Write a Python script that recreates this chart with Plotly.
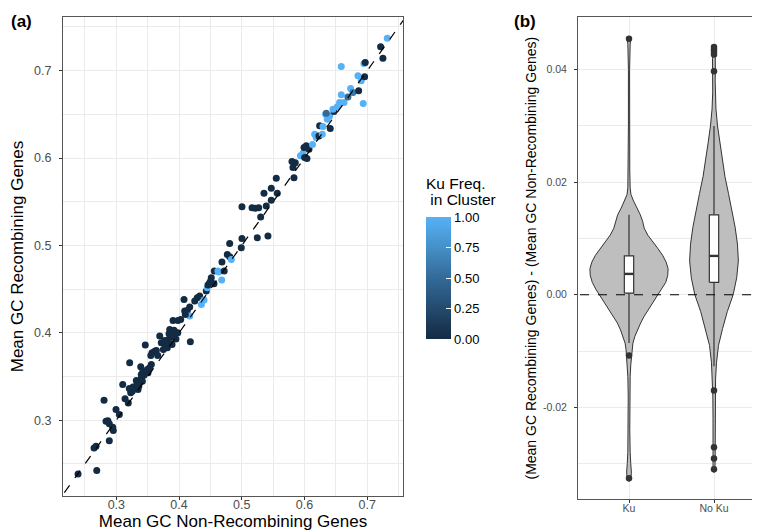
import plotly.graph_objects as go

# ---------------- Panel (a) data: one point per cluster ----------------
gc_nonrec = [
    0.239, 0.2688, 0.2645, 0.2676, 0.2888, 0.2836, 0.2888, 0.2943, 0.2952, 0.2995,
    0.3048, 0.2804, 0.3102, 0.3139, 0.3191, 0.3207, 0.3229, 0.3213, 0.3255, 0.2865,
    0.3265, 0.3319, 0.3346, 0.3389, 0.3415, 0.3441, 0.3462, 0.3505, 0.3494, 0.3558,
    0.3569, 0.3612, 0.3638, 0.3692, 0.3717, 0.3771, 0.3813, 0.3851, 0.3877, 0.3888,
    0.3904, 0.3931, 0.3983, 0.4079, 0.4090, 0.4132, 0.4170, 0.4180, 0.4170, 0.3830,
    0.3870, 0.3920, 0.3800, 0.3950, 0.3750, 0.3780, 0.3660, 0.3860, 0.3980, 0.3840,
    0.3900, 0.3790, 0.3330, 0.3370, 0.3400, 0.3470, 0.3430, 0.3360, 0.3530, 0.3550,
    0.3425, 0.3398, 0.4026, 0.4100, 0.4250, 0.4290, 0.4329, 0.4355, 0.4398, 0.4434,
    0.4450, 0.4461, 0.4488, 0.4504, 0.4514, 0.4557, 0.4562, 0.4620, 0.4632, 0.4680,
    0.4720, 0.4684, 0.4769, 0.4807, 0.4807, 0.4833, 0.4992, 0.5003, 0.5003, 0.5163,
    0.5215, 0.5269, 0.5301, 0.5354, 0.5390, 0.5417, 0.5247, 0.5470, 0.5470, 0.5550,
    0.5566, 0.5800, 0.5816, 0.5853, 0.5832, 0.5935, 0.5976, 0.5992, 0.6028, 0.6071,
    0.6002, 0.6039, 0.6127, 0.6162, 0.6187, 0.6230, 0.6241, 0.6410, 0.6283, 0.6294,
    0.6337, 0.6363, 0.6400, 0.6347, 0.6469, 0.6453, 0.6522, 0.6586, 0.6586, 0.6629,
    0.6692, 0.6735, 0.6772, 0.6852, 0.6863, 0.6904, 0.6947, 0.6968, 0.6958, 0.6936,
    0.7213, 0.7250, 0.7319, 0.6560,
]
gc_rec = [
    0.2385, 0.2423, 0.2683, 0.2702, 0.2766, 0.2989, 0.2958, 0.2920, 0.2881, 0.3121,
    0.3064, 0.3229, 0.3408, 0.3244, 0.3198, 0.3362, 0.3313, 0.3656, 0.3332, 0.2995,
    0.3380, 0.3454, 0.3350, 0.3611, 0.3447, 0.3515, 0.3859, 0.3542, 0.3580, 0.3637,
    0.3771, 0.3790, 0.3797, 0.3962, 0.3886, 0.3912, 0.3828, 0.4038, 0.4011, 0.3866,
    0.4141, 0.3992, 0.4141, 0.4382, 0.4249, 0.4256, 0.4294, 0.3897, 0.4191, 0.3920,
    0.3950, 0.4030, 0.3860, 0.3930, 0.3810, 0.3880, 0.3740, 0.3980, 0.4000, 0.3990,
    0.3970, 0.3840, 0.3410, 0.3440, 0.3480, 0.3540, 0.3560, 0.3390, 0.3600, 0.3740,
    0.3561, 0.3522, 0.4152, 0.4210, 0.4363, 0.4400, 0.4420, 0.4324, 0.4374, 0.4478,
    0.4515, 0.4546, 0.4573, 0.4592, 0.4630, 0.4561, 0.4707, 0.4707, 0.4695, 0.4605,
    0.4707, 0.4810, 0.4897, 0.4871, 0.5023, 0.4840, 0.4974, 0.5080, 0.5443, 0.5432,
    0.5424, 0.5432, 0.5325, 0.5596, 0.5451, 0.5108, 0.5088, 0.5653, 0.5516, 0.5768,
    0.5596, 0.5960, 0.5890, 0.5947, 0.5775, 0.6025, 0.6055, 0.6119, 0.6139, 0.6100,
    0.6005, 0.5993, 0.6155, 0.6272, 0.6234, 0.6253, 0.6368, 0.6337, 0.6272, 0.6360,
    0.6500, 0.6444, 0.6482, 0.6513, 0.6532, 0.6558, 0.6586, 0.6723, 0.7047, 0.6634,
    0.6699, 0.6795, 0.6749, 0.6940, 0.6769, 0.6883, 0.7082, 0.7093, 0.6929, 0.6623,
    0.7273, 0.7142, 0.7371, 0.6634,
]
ku_freq = [
    0, 0, 0, 0, 0, 0, 0, 0, 0, 0,
    0, 0, 0, 0, 0, 0, 0, 0, 0, 0,
    0, 0, 0, 0, 0, 0, 0, 0, 0, 0,
    0, 0, 0, 0, 0, 0, 0, 0, 0, 0,
    0, 0, 0, 0, 0, 0, 0, 0, 1, 0,
    0, 0, 0, 0, 0, 0, 0, 0, 0, 0,
    0, 0, 0, 0, 0, 0, 0, 0, 0, 0,
    0, 0, 0, 0, 0, 0, 0, 1, 1, 0,
    1, 0, 0, 0, 0, 0, 0, 1, 1, 1,
    0, 0, 0, 0, 0, 1, 0, 0, 0, 0,
    0, 0, 0, 0, 0, 0, 0, 0, 0, 0,
    0, 0, 0, 0, 0, 1, 1, 0, 0, 0,
    0, 0, 1, 1, 1, 0, 0, 0, 1, 1,
    1, 1, 1, 0.5, 0, 1, 1, 1, 1, 1,
    0.5, 1, 0.6, 1, 0, 1, 1, 0, 0, 1,
    0, 0, 1, 1,
]

# ---------------- Panel (b) data ----------------
groups = ["Ku", "No Ku"]
group_pos = [1, 2]

# violin outlines: GC difference levels and relative density
ku_levels = [0.0458, 0.0452, 0.0445, 0.040, 0.030, 0.022, 0.019, 0.0178, 0.0166, 0.0154,
             0.0142, 0.0130, 0.0118, 0.0106, 0.0094, 0.0082, 0.0070, 0.0058, 0.0046, 0.0034,
             0.0022, 0.0010, -0.0002, -0.0014, -0.0026, -0.0038, -0.0050, -0.0062, -0.0074, -0.0086,
             -0.0098, -0.0110, -0.0125, -0.0145, -0.018, -0.024, -0.028, -0.030, -0.0315, -0.0325,
             -0.0332]
ku_density = [0.0, 0.04, 0.03, 0.015, 0.015, 0.02, 0.03, 0.05, 0.12, 0.2,
              0.29, 0.35, 0.39, 0.48, 0.6, 0.74, 0.86, 0.95, 1.0, 0.99,
              0.94, 0.85, 0.74, 0.62, 0.5, 0.39, 0.3, 0.22, 0.15, 0.1,
              0.075, 0.06, 0.045, 0.03, 0.02, 0.02, 0.03, 0.045, 0.06, 0.05,
              0.0]
noku_levels = [0.0443, 0.0438, 0.042, 0.040, 0.038, 0.036, 0.033, 0.030, 0.027, 0.024,
               0.021, 0.018, 0.015, 0.012, 0.009, 0.006, 0.003, 0.000, -0.003, -0.006,
               -0.009, -0.012, -0.015, -0.018, -0.022, -0.027, -0.029, -0.031, -0.0316]
noku_density = [0.0, 0.03, 0.038, 0.035, 0.03, 0.033, 0.05, 0.09, 0.15, 0.22,
                0.28, 0.37, 0.46, 0.54, 0.6, 0.623, 0.58, 0.49, 0.34, 0.22,
                0.115, 0.065, 0.04, 0.03, 0.025, 0.03, 0.03, 0.025, 0.0]
violin_density = [ku_density, noku_density]
violin_levels = [ku_levels, noku_levels]

# box-plot statistics
box_q1 = [0.0003, 0.0022]
box_median = [0.0037, 0.0069]
box_q3 = [0.0069, 0.0142]
box_lower = [-0.0086, -0.0127]
box_upper = [0.0142, 0.0300]
ku_outliers = [0.0455, -0.0108, -0.0326]
noku_outliers = [0.0440, 0.0436, 0.0432, 0.0427, 0.0397, -0.0170, -0.0271, -0.0291, -0.0310]

a_ticks = [0.3, 0.4, 0.5, 0.6, 0.7]
a_minor = [0.25, 0.35, 0.45, 0.55, 0.65, 0.75]
b_ticks = [-0.02, 0.0, 0.02, 0.04]
b_ticktext = ["-0.02", "0.00", "0.02", "0.04"]
b_minor = [-0.03, -0.01, 0.01, 0.03]
cb_ticks = [0, 0.25, 0.5, 0.75, 1]
cb_ticktext = ["0.00", "0.25", "0.50", "0.75", "1.00"]
cb_title_lines = ["Ku Freq.", " in Cluster"]

FONT = "Liberation Sans, Arial, Helvetica, sans-serif"
GRID = "#EBEBEB"
DARK = "#333333"
colorscale = [[0, "#132B43"], [0.25, "#234A6D"], [0.5, "#336A98"], [0.75, "#4590C7"], [1, "#56B1F7"]]

fig = go.Figure()

fig.add_trace(go.Scatter(
    x=gc_nonrec, y=gc_rec, mode="markers", xaxis="x", yaxis="y",
    marker=dict(size=7, color=ku_freq, colorscale=colorscale, cmin=0, cmax=1,
                showscale=True,
                colorbar=dict(
                    x=418 / 760, xanchor="left", xpad=0,
                    y=1 - 270 / 531, yanchor="middle", ypad=0,
                    len=122 / 531, lenmode="fraction", thickness=25,
                    outlinewidth=0,
                    tickvals=cb_ticks, ticktext=cb_ticktext,
                    ticks="inside", tickcolor="white", ticklen=5,
                    tickfont=dict(size=13, color="black", family=FONT),
                )),
    showlegend=False, hoverinfo="x+y",
))
fig.add_trace(go.Scatter(
    x=[0.1, 0.9], y=[0.1, 0.9], mode="lines", xaxis="x", yaxis="y",
    line=dict(color="black", dash="dash", width=1.2), showlegend=False, hoverinfo="skip",
))

VSCALE = 0.46
BOX_HW = 0.055
for i, pos in enumerate(group_pos):
    dens = violin_density[i]
    levels = violin_levels[i]
    xs = [pos - VSCALE * d for d in dens] + [pos + VSCALE * d for d in reversed(dens)]
    ys = list(levels) + list(reversed(levels))
    fig.add_trace(go.Scatter(
        x=xs, y=ys, mode="lines", fill="toself", fillcolor="#BEBEBE",
        line=dict(color=DARK, width=1), xaxis="x2", yaxis="y2",
        showlegend=False, hoverinfo="skip",
    ))
    # whiskers
    fig.add_trace(go.Scatter(
        x=[pos, pos, None, pos, pos],
        y=[box_lower[i], box_q1[i], None, box_q3[i], box_upper[i]],
        mode="lines", line=dict(color=DARK, width=1.2), xaxis="x2", yaxis="y2",
        showlegend=False, hoverinfo="skip",
    ))
    # box
    fig.add_trace(go.Scatter(
        x=[pos - BOX_HW, pos + BOX_HW, pos + BOX_HW, pos - BOX_HW, pos - BOX_HW],
        y=[box_q1[i], box_q1[i], box_q3[i], box_q3[i], box_q1[i]],
        mode="lines", fill="toself", fillcolor="white",
        line=dict(color=DARK, width=1.2), xaxis="x2", yaxis="y2",
        showlegend=False, hoverinfo="skip",
    ))
    # median
    fig.add_trace(go.Scatter(
        x=[pos - BOX_HW, pos + BOX_HW], y=[box_median[i], box_median[i]],
        mode="lines", line=dict(color=DARK, width=2.4), xaxis="x2", yaxis="y2",
        showlegend=False, hoverinfo="skip",
    ))

fig.add_trace(go.Scatter(
    x=[group_pos[0]] * len(ku_outliers) + [group_pos[1]] * len(noku_outliers),
    y=ku_outliers + noku_outliers, mode="markers",
    marker=dict(size=6.5, color=DARK), xaxis="x2", yaxis="y2",
    showlegend=False,
))
fig.add_trace(go.Scatter(
    x=[0, 3], y=[0, 0], mode="lines", line=dict(color="black", dash="dash", width=1.2),
    xaxis="x2", yaxis="y2", showlegend=False, hoverinfo="skip",
))

axis_common = dict(
    showline=True, mirror=True, linecolor="#555555", linewidth=1,
    gridcolor=GRID, gridwidth=1, zeroline=False,
    ticks="outside", ticklen=3, tickcolor=DARK, automargin=False,
)

fig.update_layout(
    width=760, height=531,
    margin=dict(l=0, r=0, t=0, b=0),
    paper_bgcolor="white", plot_bgcolor="white",
    font=dict(family=FONT, color="#4D4D4D"),
    xaxis=dict(domain=[55 / 760, 395 / 760], range=[0.215, 0.757],
               tickvals=a_ticks, tickfont=dict(size=12.5, color="#4D4D4D"),
               ticklabelstandoff=-6,
               minor=dict(tickvals=a_minor, showgrid=True, gridcolor=GRID, gridwidth=0.5),
               title=dict(text="Mean GC Non-Recombining Genes", standoff=0,
                          font=dict(size=17, color="black")),
               anchor="y", **axis_common),
    yaxis=dict(domain=[1 - 487.7 / 531, 1 - 9.3 / 531], range=[0.2136, 0.761],
               tickvals=a_ticks, tickfont=dict(size=12.5, color="#4D4D4D"),
               ticklabelstandoff=5,
               minor=dict(tickvals=a_minor, showgrid=True, gridcolor=GRID, gridwidth=0.5),
               title=dict(text="Mean GC Recombining Genes", standoff=7,
                          font=dict(size=17, color="black")),
               anchor="x", **axis_common),
    xaxis2=dict(domain=[570 / 760, 757 / 760], range=[0.4, 2.6],
                tickvals=group_pos, ticktext=groups,
                tickfont=dict(size=10.5, color="#4D4D4D"),
                ticklabelstandoff=-4,
                anchor="y2", **axis_common),
    yaxis2=dict(domain=[1 - 491 / 531, 1 - 9.3 / 531], range=[-0.0363, 0.0493],
                tickvals=b_ticks, ticktext=b_ticktext,
                tickfont=dict(size=10.5, color="#4D4D4D"),
                ticklabelstandoff=5,
                minor=dict(tickvals=b_minor, showgrid=True, gridcolor=GRID, gridwidth=0.5),
                title=dict(text="(Mean GC Recombining Genes) - (Mean GC Non-Recombining Genes)",
                           standoff=3, font=dict(size=14, color="black")),
                anchor="x2", **axis_common),
    annotations=[
        dict(text="<b>(a)</b>", x=1 / 760, y=1 - 2 / 531, xref="paper", yref="paper",
             xanchor="left", yanchor="top", showarrow=False,
             font=dict(size=17, color="black", family=FONT)),
        dict(text="<b>(b)</b>", x=504 / 760, y=1 - 2 / 531, xref="paper", yref="paper",
             xanchor="left", yanchor="top", showarrow=False,
             font=dict(size=17, color="black", family=FONT)),
        dict(text=cb_title_lines[0], x=416 / 760, y=1 - 175 / 531, xref="paper", yref="paper",
             xanchor="left", yanchor="middle", showarrow=False,
             font=dict(size=15.5, color="black", family=FONT)),
        dict(text=cb_title_lines[1], x=416 / 760, y=1 - 191 / 531, xref="paper", yref="paper",
             xanchor="left", yanchor="middle", showarrow=False,
             font=dict(size=15.5, color="black", family=FONT)),
    ],
)

fig.write_html("out.html")
